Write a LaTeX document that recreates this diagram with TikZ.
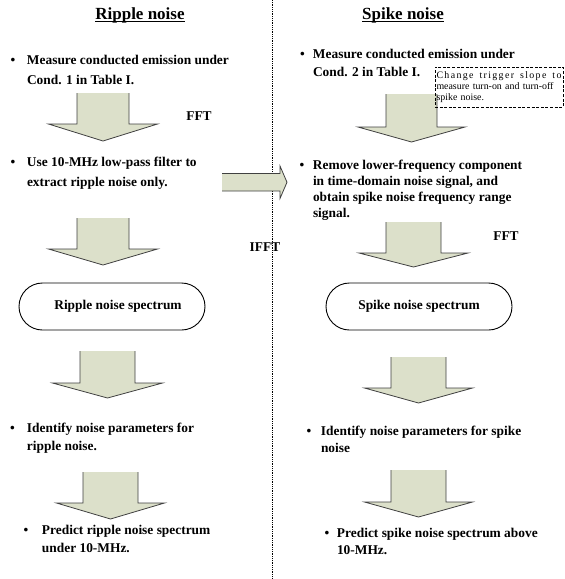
\documentclass[tikz,border=0pt]{standalone}
\usepackage{fontspec}
\setmainfont{Liberation Serif}
\definecolor{arrowfill}{RGB}{220,224,202}
\definecolor{arrowline}{RGB}{64,64,64}
\newcommand\bl[2]{\begin{tabular}[t]{@{}p{#1}@{}l@{}}#2\end{tabular}}
\newcommand\myul[1]{\setbox0\hbox{#1}\rlap{\rule[-2.8pt]{\wd0}{0.9pt}}\box0}
% cx, top, shoulder, tip, shaft half width, head half width
\newcommand\dnarrow[6]{%
  \fill[arrowfill] (#1-#5,#2) -- (#1-#5,#3) -- (#1-#6,#3) -- (#1,#4) -- (#1+#6,#3) -- (#1+#5,#3) -- (#1+#5,#2) -- cycle;
  \draw[blkline] (#1-#5,#2) -- (#1-#5,#3) -- (#1-#6,#3) -- (#1,#4) -- (#1+#6,#3) -- (#1+#5,#3) -- (#1+#5,#2);
}
\begin{document}
\begin{tikzpicture}[x=1pt,y=-1pt,
  every node/.style={inner sep=0pt, outer sep=0pt},
  txt/.style={anchor=base west, font=\fontsize{13.4}{#1}\selectfont\bfseries},
  txt/.default=17.5,
  ttl/.style={anchor=base, font=\fontsize{17}{20}\selectfont\bfseries},
  lbl/.style={anchor=base, font=\fontsize{13.4}{16}\selectfont\bfseries},
  spec/.style={draw=black, line width=0.9pt, rounded corners=23.5pt,
    minimum width=186pt, minimum height=47pt, font=\fontsize{13.4}{16}\selectfont\bfseries},
  note/.style={draw=black, dash pattern=on 3pt off 1.6pt, line width=0.7pt,
    minimum width=128pt, minimum height=40pt, text width=125pt, inner xsep=1.5pt,
    align=left, font=\fontsize{9.9}{11.2}\selectfont, anchor=north west},
  blkline/.style={draw=arrowline, line width=0.8pt, line join=miter},
  divider/.style={line width=0.7pt, dash pattern=on 0.8pt off 1pt},
]
\useasboundingbox (0,0) rectangle (565,579);
\fill[white] (0,0) rectangle (565,579);

% divider
\draw[divider] (272,0) -- (272,579);

% titles
\node[ttl] (tl) at (140,19.5) {\myul{Ripple noise}};
\node[ttl] (tr) at (403,19.5) {\myul{Spike noise}};

% left column
\node[txt=20] (la) at (10.6,64) {\bl{16.4pt}{\textbullet & Measure conducted emission under\\ & Cond. 1 in Table I.}};
\dnarrow{103}{93}{124}{141}{26}{54.5}
\node[lbl] (fftl) at (199,120.5) {FFT};
\node[txt=20] (lb) at (10.6,166.5) {\bl{16.4pt}{\textbullet & Use 10-MHz low-pass filter to\\ & extract ripple noise only.}};
\dnarrow{103}{218}{249}{265}{26}{54.5}
\node[spec] (lspec) at (112,306.5) {\hspace*{12pt}Ripple noise spectrum};
\dnarrow{107.5}{351}{383}{398}{27.5}{55}
\node[txt=18] (lc) at (10.1,432) {\bl{16.9pt}{\textbullet & Identify noise parameters for\\ & ripple noise.}};
\dnarrow{110.5}{472}{503}{519}{27.5}{54}
\node[txt=18] (ld) at (23.6,534) {\bl{18.4pt}{\textbullet & Predict ripple noise spectrum\\ & under 10-MHz.}};

% horizontal arrow
\fill[arrowfill] (222,173.5) -- (280,173.5) -- (280,166) -- (287,182.25) -- (280,198.5) -- (280,191) -- (222,191) -- cycle;
\draw[blkline] (222,173.5) -- (280,173.5) -- (280,166) -- (287,182.25) -- (280,198.5) -- (280,191) -- (222,191);
\node[lbl] (ifft) at (265,251.5) {IFFT};

% right column
\node[txt=18] (ra) at (300.1,58) {\bl{12.9pt}{\textbullet & Measure conducted emission under\\ & Cond. 2 in Table I.}};
\dnarrow{411.5}{94}{127}{142}{25.5}{53.5}
\node[note] (nt) at (435,67) {\makebox[\linewidth][s]{C\hfil h\hfil a\hfil n\hfil g\hfil e\hfil\ \hfil t\hfil r\hfil i\hfil g\hfil g\hfil e\hfil r\hfil\ \hfil s\hfil l\hfil o\hfil p\hfil e\hfil\ \hfil t\hfil o}\\\mbox{measure turn-on and turn-off}\\\mbox{spike noise.}};
\node[txt=16.2] (rb) at (299.6,169) {\bl{13.4pt}{\textbullet & Remove lower-frequency component\\ & in time-domain noise signal, and\\ & obtain spike noise frequency range\\ & signal.}};
\dnarrow{413.5}{222}{253}{267}{27.5}{54.5}
\node[lbl] (fftr) at (506,240.5) {FFT};
\node[spec] (rspec) at (419,306.5) {Spike noise spectrum};
\dnarrow{418.5}{357}{388}{403}{27.5}{54}
\node[txt=17.5] (rc) at (306.6,435) {\bl{14.4pt}{\textbullet & Identify noise parameters for spike\\ & noise}};
\dnarrow{418.5}{470}{502}{517}{27.5}{54}
\node[txt=17.5] (rd) at (324.6,537) {\bl{12.4pt}{\textbullet & Predict spike noise spectrum above\\ & 10-MHz.}};
\end{tikzpicture}
\end{document}
